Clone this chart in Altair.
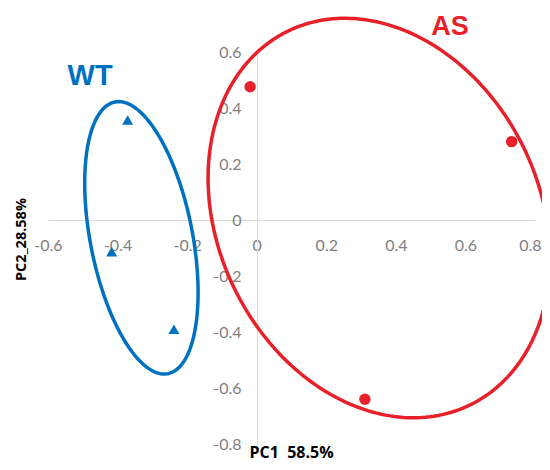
import altair as alt
import numpy as np
import pandas as pd

# ---- data -------------------------------------------------------------
x_ticks = [-0.6, -0.4, -0.2, 0, 0.2, 0.4, 0.6, 0.8]
y_ticks = [-0.8, -0.6, -0.4, -0.2, 0, 0.2, 0.4, 0.6]

wt_pc1 = [-0.371, -0.417, -0.238]
wt_pc2 = [0.357, -0.113, -0.390]
as_pc1 = [-0.019, 0.733, 0.311]
as_pc2 = [0.476, 0.280, -0.640]

group_names = ["WT", "AS"]
group_colors = ["#0070C0", "#E8202A"]
group_shapes = ["triangle-up", "circle"]
label_pc1 = [-0.479, 0.556]
label_pc2 = [0.514, 0.690]
label_sizes = [29, 27]

# group ellipses: centre (data units), semi-axes (px), tilt (deg)
ell_cx = [-0.3315, 0.3516]
ell_cy = [-0.0636, 0.0071]
ell_a = [138.4, 207.9]
ell_b = [51.1, 160.9]
ell_tilt = [11.0, 26.0]

W, H = 487, 392
x_dom = [-0.6, 0.8]
y_dom = [-0.8, 0.6]
sx = W / (x_dom[1] - x_dom[0])
sy = H / (y_dom[1] - y_dom[0])

# ---- tables -----------------------------------------------------------
pts = pd.DataFrame({
    "PC1": wt_pc1 + as_pc1,
    "PC2": wt_pc2 + as_pc2,
    "group": ["WT"] * len(wt_pc1) + ["AS"] * len(as_pc1),
})

rows = []
t = np.linspace(0, 2 * np.pi, 241)
for g, cx, cy, a, b, th in zip(group_names, ell_cx, ell_cy, ell_a, ell_b, ell_tilt):
    s, c = np.sin(np.radians(th)), np.cos(np.radians(th))
    dx = a * np.cos(t) * (-s) + b * np.sin(t) * c
    dy = a * np.cos(t) * c + b * np.sin(t) * s
    for i in range(len(t)):
        rows.append({"group": g, "i": i, "PC1": cx + dx[i] / sx, "PC2": cy + dy[i] / sy})
ell = pd.DataFrame(rows)

labels = pd.DataFrame({"PC1": label_pc1, "PC2": label_pc2, "group": group_names})

# ---- encodings --------------------------------------------------------
lab_expr = "toString(round(datum.value*10)/10)"
last_x = "datum.value >= 0.79"
x_axis = alt.Axis(
    values=x_ticks, offset=-224, domainColor="#d9d9d9", domainWidth=1,
    ticks=False, tickSize=0, grid=False,
    labelColor="#7f7f7f", labelFont="Lato", labelFontSize=16, labelPadding=17,
    labelFlush=False, labelOverlap=False, labelExpr=lab_expr,
    labelAlign={"condition": {"test": last_x, "value": "right"}, "value": "center"},
    labelOffset={"condition": {"test": last_x, "value": 6}, "value": 0},
    title="PC1 \u00a058.5%", titleX=243, titleY=237, titleBaseline="alphabetic",
    titleAlign="center", titleFont="Open Sans", titleFontSize=16,
    titleFontWeight="bold", titleColor="#000000",
)
y_axis = alt.Axis(
    values=y_ticks, offset=-209, domainColor="#d9d9d9", domainWidth=1,
    ticks=False, tickSize=0, grid=False,
    labelColor="#7f7f7f", labelFont="Lato", labelFontSize=16, labelPadding=16,
    labelFlush=False, labelOverlap=False, labelExpr=lab_expr,
    title="PC2_28.58%", titleX=-232, titleY=187, titleBaseline="alphabetic",
    titleAlign="center", titleAngle=270, titleFont="Open Sans", titleFontSize=14.5,
    titleFontWeight="bold", titleColor="#000000",
)

X = alt.X("PC1:Q", scale=alt.Scale(domain=x_dom, nice=False, zero=False), axis=x_axis)
Y = alt.Y("PC2:Q", scale=alt.Scale(domain=y_dom, nice=False, zero=False), axis=y_axis)
color = alt.Color("group:N", scale=alt.Scale(domain=group_names, range=group_colors), legend=None)

ellipses = alt.Chart(ell).mark_line(strokeWidth=3.5, clip=False).encode(
    x=X, y=Y, color=color, detail="group:N", order="i:Q"
)

points = alt.Chart(pts).mark_point(filled=True, opacity=1, clip=False).encode(
    x=X, y=Y, color=color,
    shape=alt.Shape("group:N", scale=alt.Scale(domain=group_names, range=group_shapes), legend=None),
    size=alt.Size("group:N", scale=alt.Scale(domain=group_names, range=[120, 130]), legend=None),
)

texts = alt.Chart(labels).mark_text(
    font="Liberation Sans", fontWeight="bold", align="center", baseline="middle", clip=False
).encode(
    x=X, y=Y, color=color, text="group:N",
    size=alt.Size("group:N", scale=alt.Scale(domain=group_names, range=label_sizes), legend=None),
)

chart = alt.layer(ellipses, points, texts).properties(
    width=W, height=H,
    autosize=alt.AutoSizeParams(type="none"),
    padding={"left": 40, "top": 44, "right": 7, "bottom": 18},
).configure_view(stroke=None).resolve_scale(size="independent")

chart.save("out.html", embed_options={"renderer": "svg", "actions": False})
